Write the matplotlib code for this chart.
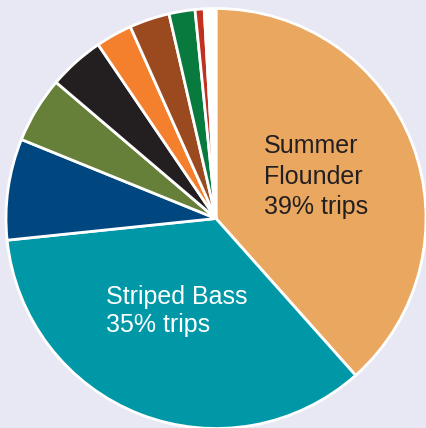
import matplotlib.pyplot as plt
from matplotlib import font_manager

# share of trips by target species (read clockwise from the top)
species = ['Summer Flounder', 'Striped Bass', 'Species 3', 'Species 4', 'Species 5',
           'Species 6', 'Species 7', 'Species 8', 'Species 9', 'Other']
shares = [38.5, 35.0, 7.8, 5.1, 4.3, 2.8, 3.1, 2.0, 0.7, 0.9]
colors = ['#e9a75f', '#0098a6', '#00467f', '#668039', '#231f20',
          '#f47f2c', '#9b4a1f', '#087a3e', '#c0311f', '#ffffff']

label_main = ['Summer\nFlounder\n39% trips', 'Striped Bass\n35% trips']

names = {f.name for f in font_manager.fontManager.ttflist}
narrow = 'Liberation Sans Narrow' if 'Liberation Sans Narrow' in names else 'Liberation Sans'

bg = '#e8e8f4'
fig = plt.figure(figsize=(4.26, 4.28), dpi=100, facecolor=bg)
ax = fig.add_axes([0, 0, 1, 1])
ax.set_facecolor(bg)

ax.pie(shares, colors=colors, startangle=90, counterclock=False, radius=1.0,
       wedgeprops=dict(edgecolor='white', linewidth=2.0))

# pie centre at pixel (216, 219), radius 210 px
ax.set_xlim(-216 / 210, 210 / 210)
ax.set_ylim(-209.5 / 210, 218.5 / 210)
ax.set_aspect('auto')
ax.axis('off')

ax.text(0.23, 0.40, label_main[0], ha='left', va='top', fontsize=18,
        color='#231f20', family=narrow, linespacing=1.33)
ax.text(-0.525, -0.318, label_main[1], ha='left', va='top', fontsize=18,
        color='white', family=narrow, linespacing=1.17)

fig.savefig('out.png', dpi=100, facecolor=bg)
